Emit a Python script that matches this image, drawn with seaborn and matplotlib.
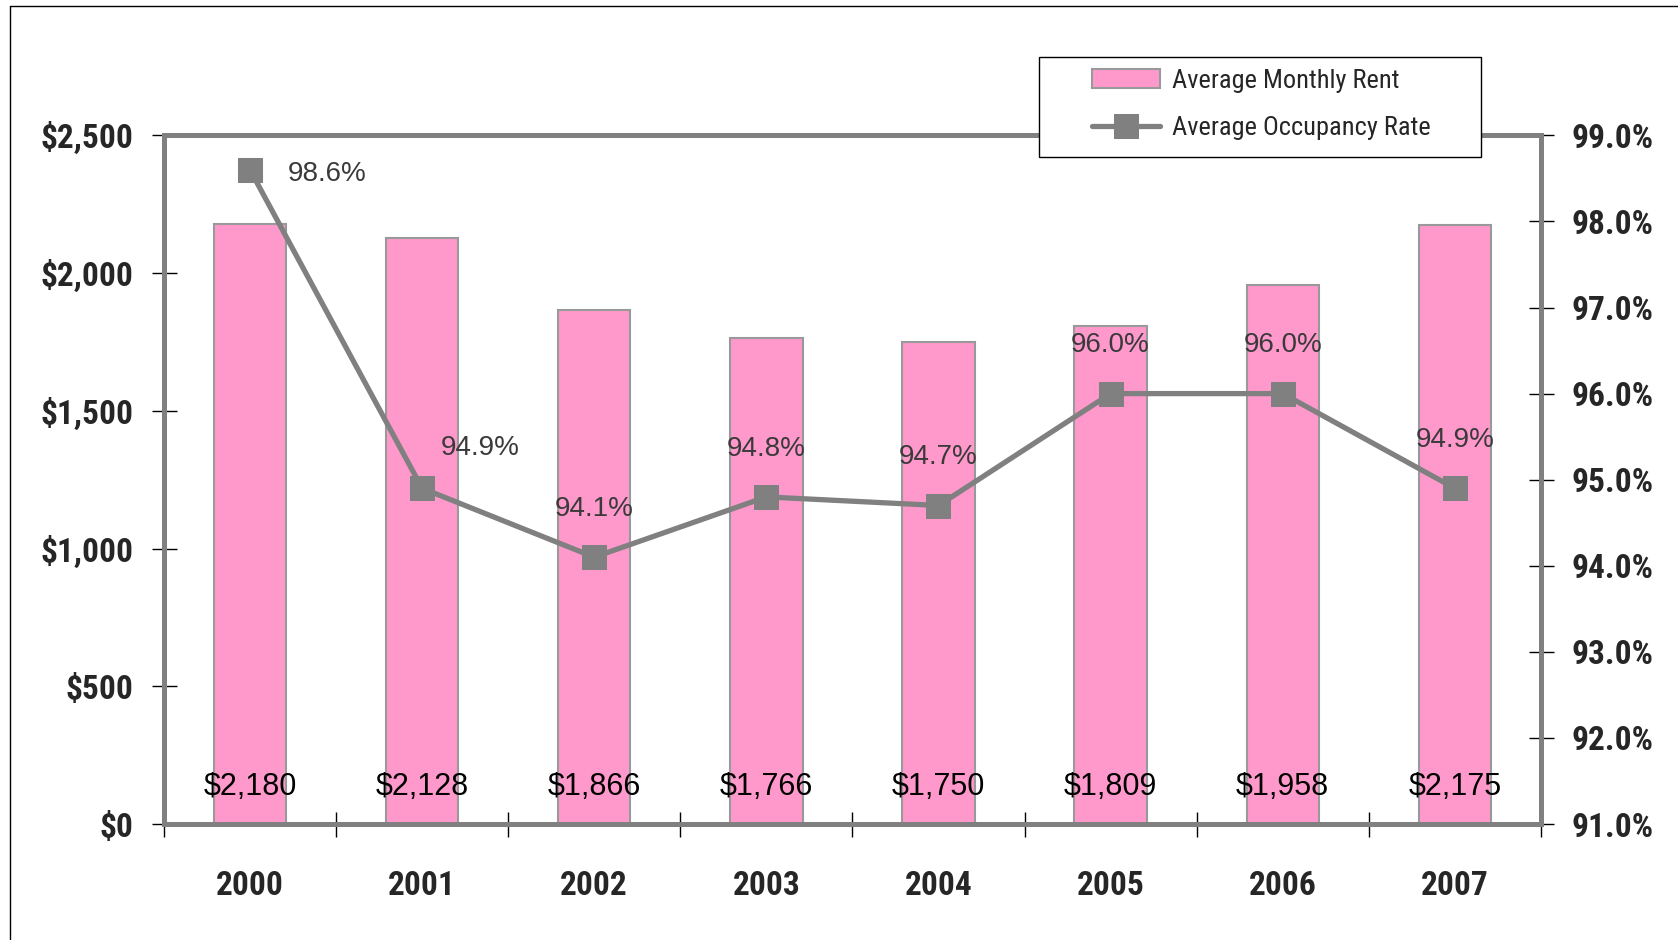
import numpy as np
import pandas as pd
import seaborn as sns
import matplotlib.pyplot as plt
from matplotlib.lines import Line2D
from matplotlib.patches import Rectangle

years = ['2000', '2001', '2002', '2003', '2004', '2005', '2006', '2007']
rent = [2180, 2128, 1866, 1766, 1750, 1809, 1958, 2175]
occupancy = [98.6, 94.9, 94.1, 94.8, 94.7, 96.0, 96.0, 94.9]
rent_ticks = [0, 500, 1000, 1500, 2000, 2500]
occ_ticks = [91, 92, 93, 94, 95, 96, 97, 98, 99]

sns.set_theme(style='white')
narrow = ['Roboto Condensed', 'Liberation Sans Narrow', 'DejaVu Sans']
plain = ['Liberation Sans', 'DejaVu Sans']
plt.rcParams['font.family'] = plain

df = pd.DataFrame({'year': years, 'rent': rent, 'occ': occupancy})
pos = np.arange(len(years))

fig = plt.figure(figsize=(16.78, 9.4), dpi=100)
ax = fig.add_axes([0.0977, 0.1234, 0.8206, 0.7326])

sns.barplot(data=df, x='year', y='rent', ax=ax, color='#FF99CC', width=0.42,
            edgecolor='#999999', linewidth=1.5, saturation=1)
ax.set_xlim(-0.5, len(years) - 0.5)
ax.set_ylim(0, 2500)
ax.set_yticks(rent_ticks)
ax.set_yticklabels([f'${v:,}' for v in rent_ticks], fontsize=24,
                   fontweight='bold', family=narrow)
ax.set_xticks(pos)
ax.set_xticklabels(years, fontsize=24, fontweight='bold', family=narrow)
ax.set_xticks(np.arange(-0.5, len(years)), minor=True)
ax.tick_params(axis='x', which='major', length=0, pad=33)
ax.tick_params(axis='x', which='minor', direction='inout', length=18,
               width=1, color='black', bottom=True)
ax.tick_params(axis='y', direction='inout', length=18, width=1,
               color='black', left=True, pad=13)
ax.set_xlabel('')
ax.set_ylabel('')

for i, v in enumerate(rent):
    ax.text(pos[i], 136, f'${v:,}', ha='center', va='center', fontsize=22,
            color='black')

ax2 = ax.twinx()
sns.lineplot(x=pos, y=df['occ'], ax=ax2, color='#808080', linewidth=3.8,
             marker='s', markersize=17, markeredgecolor='#808080',
             legend=False)
ax2.set_ylim(91, 99)
ax2.set_yticks(occ_ticks)
ax2.set_yticklabels([f'{v:.1f}%' for v in occ_ticks], fontsize=24,
                    fontweight='bold', family=narrow)
ax2.tick_params(axis='y', direction='inout', length=18, width=1,
                color='black', right=True, pad=13)
ax2.set_ylabel('')

offsets = [(0.45, -0.05), (0.34, 0.47), (0, 0.56), (0, 0.56), (0, 0.56),
           (0, 0.56), (0, 0.56), (0, 0.56)]
for i, v in enumerate(occupancy):
    dx, dy = offsets[i]
    ax2.text(pos[i] + dx, v + dy, f'{v:.1f}%', ha='center', va='center',
             fontsize=20, color='#3a3a3a')

for a in (ax, ax2):
    for s in a.spines.values():
        s.set_color('#808080')
        s.set_linewidth(3.5)

# legend box drawn over the top spine
box = Rectangle((0.6192, 0.8327), 0.2634, 0.107, transform=fig.transFigure,
                facecolor='white', edgecolor='black', linewidth=1, zorder=5)
fig.add_artist(box)

handles = [ax.patches[0], ax2.lines[0]]
labels = ['Average Monthly Rent', 'Average Occupancy Rate']
leg = fig.legend(handles, labels, loc='center left',
                 bbox_to_anchor=(0.6505, 0.8892), frameon=False,
                 handlelength=2.6, handletextpad=0.45, borderpad=0,
                 borderaxespad=0, labelspacing=0.88,
                 prop={'family': narrow, 'size': 19})
leg.set_zorder(6)

fig.add_artist(Line2D([0.006, 0.006], [0, 0.994], color='black', lw=1,
                      transform=fig.transFigure))
fig.add_artist(Line2D([0.006, 1], [0.994, 0.994], color='black', lw=1,
                      transform=fig.transFigure))

fig.savefig('out.png', dpi=100, facecolor='white')
